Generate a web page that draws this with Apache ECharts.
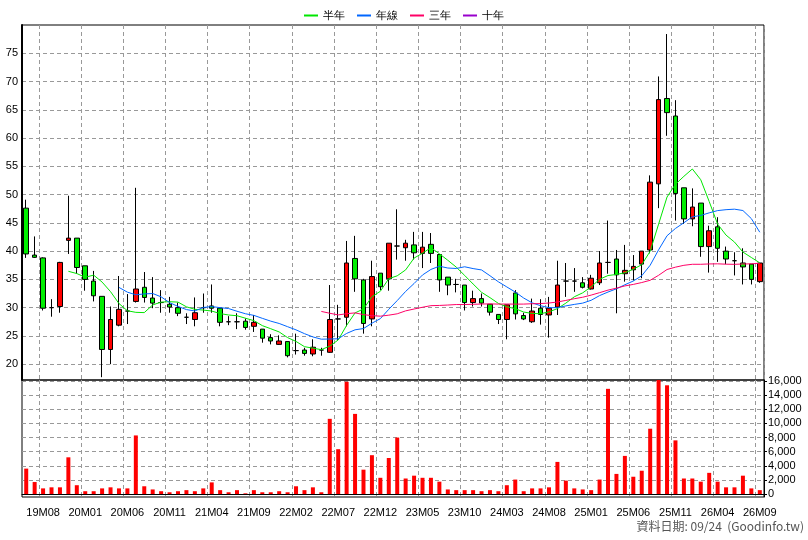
<!DOCTYPE html>
<html><head><meta charset="utf-8">
<script src="https://cdn.jsdelivr.net/npm/echarts@6/dist/echarts.min.js"></script>
<style>html,body{margin:0;padding:0;background:#fff}#c{width:808px;height:540px}</style>
</head><body><div id="c"></div>
<script>
const startYear = 2019, startMonth = 6;
const open  = [47.6,39.3,38.8,30.0,30.2,41.9,42.3,37.4,34.7,32.0,22.6,26.9,29.4,31.1,33.6,31.7,30.9,30.6,30.0,28.3,27.9,30.0,30.3,29.9,27.5,27.5,27.6,26.7,26.2,24.7,23.5,24.0,22.4,22.5,21.8,22.5,22.1,28.0,28.3,38.7,34.9,28.0,36.1,35.1,40.9,40.6,41.1,39.6,41.2,39.4,35.4,34.1,34.0,30.9,31.6,30.6,28.8,27.9,32.6,28.6,27.5,29.9,28.7,30.1,34.7,34.7,34.4,33.3,34.4,38.0,38.6,36.0,36.7,37.7,40.2,51.9,67.0,63.9,51.2,45.7,48.5,40.8,44.3,40.0,38.3,37.9,37.7,34.6];
const close = [39.5,38.9,29.9,30.0,38.0,42.3,37.1,35.0,32.1,22.6,27.9,29.7,29.4,33.3,31.8,30.8,30.9,30.1,29.0,28.3,29.1,30.0,29.9,27.4,27.5,27.5,26.5,27.4,24.6,24.1,24.1,21.5,22.4,21.9,23.0,22.5,27.9,28.0,37.9,35.1,27.2,35.5,33.7,41.4,40.9,41.4,39.7,40.7,39.6,34.9,34.0,34.1,30.9,31.6,30.8,29.2,27.9,30.5,28.9,28.0,29.4,28.8,29.9,34.0,34.7,34.7,33.6,35.2,37.9,38.0,35.8,36.6,37.3,40.0,52.2,66.8,64.5,50.2,45.7,47.8,40.8,43.6,40.5,38.6,38.3,37.2,35.0,37.9];
const low   = [38.8,38.8,29.5,28.4,29.1,39.5,36.0,33.0,31.1,17.7,20.0,26.7,27.1,30.9,30.9,29.9,29.1,29.1,28.5,27.1,26.7,29.1,29.1,26.7,26.9,26.2,26.1,25.7,23.8,23.5,23.4,21.2,21.7,21.5,21.4,21.5,22.0,24.3,26.7,32.8,25.4,26.7,33.1,33.0,38.5,38.3,38.5,37.0,37.9,32.8,32.2,32.7,29.5,30.2,30.2,28.6,27.1,24.4,27.9,27.8,27.3,27.0,24.7,28.7,31.9,32.8,33.4,33.2,34.0,36.0,29.0,34.6,34.8,35.2,39.6,47.6,60.4,45.4,44.8,44.4,39.0,36.2,38.1,37.7,35.7,34.1,34.1,34.4];
const high  = [49.1,42.6,38.9,31.5,38.1,49.8,42.3,37.4,36.5,32.0,30.2,35.6,32.4,51.2,36.3,35.4,33.1,31.9,30.9,29.0,31.8,32.5,34.1,29.9,28.5,29.0,28.1,28.7,26.2,25.3,25.1,24.0,25.4,22.9,24.4,22.9,34.0,30.5,41.8,42.7,35.1,38.3,36.1,41.4,47.4,42.0,43.4,43.4,43.2,39.4,35.4,35.1,34.0,33.0,32.5,30.6,28.8,30.5,33.1,29.1,31.6,31.5,31.9,38.3,37.9,37.0,35.4,35.8,40.0,45.4,40.2,41.1,39.3,40.0,53.4,70.9,78.4,66.7,51.2,51.1,48.5,44.5,46.0,40.8,39.8,40.5,37.7,37.9];
const volume = [3600,1700,800,950,950,5200,1250,400,400,800,950,800,800,8300,1100,650,400,250,400,550,400,800,1650,550,250,550,100,550,250,250,400,250,1100,550,950,250,10650,6350,15900,11350,3450,5500,2300,5100,8000,2200,2600,2300,2300,1750,650,550,550,550,400,550,400,1250,2050,400,800,800,950,4550,1900,800,650,550,2050,14900,2850,5400,2450,3300,9250,16300,15400,7600,2200,2200,1750,3000,1750,950,950,2600,800,550];
const priceTicks = [20,25,30,35,40,45,50,55,60,65,70,75];
const volTicks = [0,2000,4000,6000,8000,10000,12000,14000,16000];
const maNames = ['半年','年線','三年','十年'];
const maPeriods = [6,12,36,120];

const cats = close.map((_, i) => {
  const m = startMonth - 1 + i;
  const y = startYear + Math.floor(m / 12);
  return String(y % 100).padStart(2,'0') + 'M' + String(m % 12 + 1).padStart(2,'0');
});
const candles = close.map((c, i) => [open[i], c, low[i], high[i]]);
function ma(p){ return close.map((_, i) => { if (i < p-1) return '-'; let s=0; for (let k=i-p+1;k<=i;k++) s+=close[k]; return +(s/p).toFixed(2); }); }
const maColors = ['#00e600','#0066ff','#ff0066','#9900cc'];
const tickShow = (i) => (i - 2) % 5 === 0;
const dash = {lineStyle:{color:'#999',type:[4,3],width:1}};

const chart = echarts.init(document.getElementById('c'), null, {renderer:'canvas'});
chart.setOption({
  animation:false,
  textStyle:{fontFamily:'Liberation Sans, Arial, sans-serif'},
  legend:{top:5, left:'center', itemWidth:14, itemHeight:2, itemGap:12, icon:'rect',
    textStyle:{fontSize:11,color:'#000'}, data:maNames},
  grid:[
    {left:22, right:44, top:25, height:355, show:true, borderColor:'#000', borderWidth:1},
    {left:22, right:44, top:380, height:117, show:true, borderColor:'#000', borderWidth:1}
  ],
  xAxis:[
    {type:'category', gridIndex:0, data:cats, boundaryGap:true, axisLabel:{show:false}, axisTick:{show:false},
      axisLine:{show:false}, splitLine:{show:true, interval:(i)=>tickShow(i), ...dash}},
    {type:'category', gridIndex:1, data:cats, boundaryGap:true,
      axisLabel:{interval:(i)=>tickShow(i), fontSize:11, color:'#000', margin:10},
      axisTick:{interval:(i)=>tickShow(i), alignWithLabel:true, length:4, lineStyle:{color:'#000'}},
      axisLine:{show:true, lineStyle:{color:'#000'}},
      splitLine:{show:true, interval:(i)=>tickShow(i), ...dash}}
  ],
  yAxis:[
    {type:'value', gridIndex:0, min:17.2, max:80, position:'left',
      axisLine:{show:true, lineStyle:{color:'#000', width:2}},
      axisTick:{show:false, customValues:priceTicks},
      axisLabel:{customValues:priceTicks, fontSize:11, color:'#000', margin:4},
      splitLine:{show:true, ...dash}},
    {type:'value', gridIndex:1, min:-420, max:16150, position:'right',
      axisLine:{show:true, lineStyle:{color:'#000'}},
      axisTick:{show:true, customValues:volTicks, length:3, lineStyle:{color:'#000'}},
      axisLabel:{customValues:volTicks, fontSize:11, color:'#000', margin:4,
        formatter:(v)=>v.toLocaleString('en-US')},
      splitLine:{show:true, ...dash}}
  ],
  series:[
    {type:'candlestick', name:'K', xAxisIndex:0, yAxisIndex:0, data:candles, barWidth:5,
      itemStyle:{color:'#ff0000', color0:'#00ee00', borderColor:'#000', borderColor0:'#000', borderWidth:1}},
    ...maNames.map((n, k) => ({type:'line', name:n, xAxisIndex:0, yAxisIndex:0, data:ma(maPeriods[k]),
      symbol:'none', lineStyle:{width:1, color:maColors[k]}, itemStyle:{color:maColors[k]}})),
    {type:'bar', name:'量', xAxisIndex:1, yAxisIndex:1, data:volume, barWidth:4, itemStyle:{color:'#ff0000'}}
  ],
  graphic:[{type:'text', right:4, top:520, style:{text:'資料日期: 09/24  (Goodinfo.tw)', fill:'#555', fontSize:12,
    fontFamily:'Noto Sans CJK TC, sans-serif'}}]
});
</script></body></html>
